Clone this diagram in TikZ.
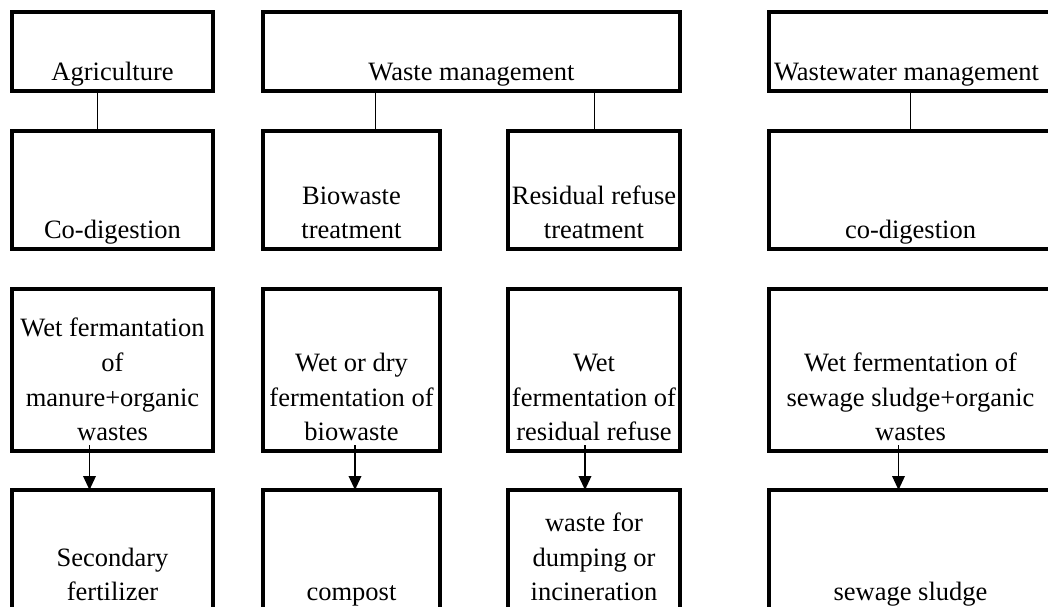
\documentclass[tikz,border=0pt]{standalone}
\usepackage{fontspec}
\setmainfont{Liberation Serif}
\usetikzlibrary{arrows.meta}

% a framed panel given by the corners of its border line
\newcommand\panel[5]{%
  \node[box,minimum width={#4-#2},minimum height={#5-#3}] (#1)
    at ({(#2+#4)/2},{(#3+#5)/2}) {};}

\begin{document}
\begin{tikzpicture}[x=1pt,y=-1pt,
  box/.style={draw,line width=3.4pt,inner sep=0pt,outer sep=0pt},
  lbl/.style={anchor=south,inner sep=0pt,outer sep=0pt,align=center,
    font=\fontsize{26.5}{34.6}\selectfont,execute at end node=\strut},
  link/.style={line width=1pt},
  flow/.style={line width=1.9pt,-{Triangle[length=14pt,width=12.5pt]}}]

\useasboundingbox (0,0) rectangle (1048,606);
\clip (0,0) rectangle (1048,606);
\fill[white] (0,0) rectangle (1048,606);

% sectors
\panel{agr}{12}{12}{213}{91}
\panel{wm}{263}{12}{680}{91}
\panel{ww}{769}{12}{1052}{91}

% treatment routes
\panel{r2a}{12}{131}{213}{249}
\panel{r2b}{263}{131}{440}{249}
\panel{r2c}{508}{131}{680}{249}
\panel{r2d}{769}{131}{1052}{249}

% processes
\panel{r3a}{12}{289}{213}{451}
\panel{r3b}{263}{289}{440}{451}
\panel{r3c}{508}{289}{680}{451}
\panel{r3d}{769}{289}{1052}{451}

% residues
\panel{r4a}{12}{490}{213}{611}
\panel{r4b}{263}{490}{440}{611}
\panel{r4c}{508}{490}{680}{611}
\panel{r4d}{769}{490}{1052}{611}

% labels, set on the lower edge of each panel
\node[lbl] (agrT) at (agr.south) {Agriculture};
\node[lbl] (wmT)  at (wm.south)  {Waste management};
\node[lbl] (wwT)  at ([xshift=-4pt]ww.south) {Wastewater management};

\node[lbl] (r2aT) at (r2a.south) {Co-digestion};
\node[lbl] (r2bT) at (r2b.south) {Biowaste\\treatment};
\node[lbl] (r2cT) at (r2c.south) {Residual refuse\\treatment};
\node[lbl] (r2dT) at (r2d.south) {co-digestion};

\node[lbl] (r3aT) at (r3a.south) {Wet fermantation\\of\\manure+organic\\wastes};
\node[lbl] (r3bT) at (r3b.south) {Wet or dry\\fermentation of\\biowaste};
\node[lbl] (r3cT) at (r3c.south) {Wet\\fermentation of\\residual refuse};
\node[lbl] (r3dT) at (r3d.south) {Wet fermentation of\\sewage sludge+organic\\wastes};

\node[lbl] (r4aT) at (r4a.south) {Secondary\\fertilizer};
\node[lbl] (r4bT) at (r4b.south) {compost};
\node[lbl] (r4cT) at (r4c.south) {waste for\\dumping or\\incineration};
\node[lbl] (r4dT) at (r4d.south) {sewage sludge};

% sector to route links
\draw[link] ([xshift=-15.5pt]agr.south) -- ([xshift=-15.5pt]r2a.north);
\draw[link] ([xshift=-96.5pt]wm.south) -- ([xshift=23.5pt]r2b.north);
\draw[link] ([xshift=122.5pt]wm.south) -- (r2c.north);
\draw[link] (ww.south) -- (r2d.north);

% process to residue arrows
\draw[flow] ([xshift=-23pt,yshift=6pt]r3a.south) -- ([xshift=-23pt]r4a.north);
\draw[flow] ([xshift=3.5pt,yshift=6pt]r3b.south) -- ([xshift=3.5pt]r4b.north);
\draw[flow] ([xshift=-9pt,yshift=6pt]r3c.south) -- ([xshift=-9pt]r4c.north);
\draw[flow] ([xshift=-12pt,yshift=6pt]r3d.south) -- ([xshift=-12pt]r4d.north);
\end{tikzpicture}
\end{document}
